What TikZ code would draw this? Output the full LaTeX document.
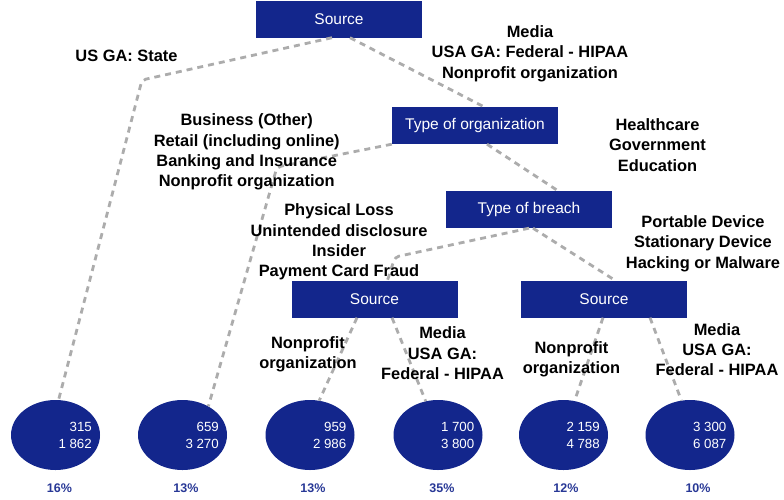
\documentclass[tikz,border=0pt]{standalone}
\usepackage{fontspec}
\setmainfont{Liberation Sans}
\usepackage{tikz}
\usetikzlibrary{shapes.geometric}
\definecolor{darkblue}{RGB}{19,38,140}
\definecolor{pctblue}{RGB}{40,56,150}
\definecolor{linegray}{RGB}{172,172,172}
\begin{document}
\begin{tikzpicture}[x=1pt,y=-1pt,
  box/.style={fill=darkblue,text=white,minimum width=166pt,minimum height=37pt,inner sep=0pt,font=\fontsize{15.5}{19}\selectfont},
  leaf/.style={ellipse,fill=darkblue,minimum width=89pt,minimum height=70pt,inner sep=0pt},
  nums/.style={text=white,align=right,inner sep=0pt,font=\fontsize{13.3}{17}\selectfont},
  pct/.style={text=pctblue,inner sep=0pt,font=\bfseries\fontsize{12.5}{15}\selectfont},
  lbl/.style={align=center,inner sep=0pt,font=\bfseries\fontsize{16.4}{20.3}\selectfont},
  link/.style={draw=linegray,line width=2.8pt,dash pattern=on 6pt off 5pt,rounded corners=4pt}]
\useasboundingbox (0,0) rectangle (784,499);
\node[box] (src) at (339,19) {Source};
\node[box] (org) at (475,125.5) {Type of organization};
\node[box] (brch) at (529,209.5) {Type of breach};
\node[box] (srcL) at (374.5,299) {Source};
\node[box] (srcR) at (604,299) {Source};
\foreach \cx/\a/\b/\p/\px [count=\i] in {55.5/315/1 862/16/59.5, 182.5/659/3 270/13/186, 310/959/2 986/13/313, 438/1 700/3 800/35/442, 563.5/2 159/4 788/12/566, 690/3 300/6 087/10/698}
{
   \node[leaf] (e\i) at (\cx,435) {};
   \node[nums,anchor=east] (n\i) at (\cx+36.5,435.5) {\a\\\b};
   \node[pct] (p\i) at (\px,488) {\p\%};
}
\coordinate (c1) at (142,80);
\coordinate (c2) at (277,167);
\coordinate (c3) at (395,257);
\draw[link] ([xshift=-7pt]src.south) -- (c1) -- (e1.85);
\draw[link] ([xshift=11pt]src.south) -- ([xshift=9pt]org.north);
\draw[link] (org.south west) -- (c2) -- (e2.48);
\draw[link] ([xshift=12pt]org.south) -- ([xshift=29pt]brch.north);
\draw[link] (brch.south) -- (c3) -- ([xshift=13pt]srcL.north);
\draw[link] ([xshift=4pt]brch.south) -- ([xshift=11pt]srcR.north);
\draw[link] ([xshift=-17.5pt]srcL.south) -- (e3.75);
\draw[link] ([xshift=17.5pt]srcL.south) -- (e4.110);
\draw[link] ([xshift=-1pt]srcR.south) -- (e5.72);
\draw[link] ([xshift=46pt]srcR.south) -- (e6.104);
\node[lbl] (usga) at (126.5,56) {US GA: State};
\node[lbl] (media1) at (530,53.5) {Media\\USA GA: Federal - HIPAA\\Nonprofit organization};
\node[lbl] (biz) at (246.7,152) {Business (Other)\\Retail (including online)\\Banking and Insurance\\Nonprofit organization};
\node[lbl] (health) at (657.5,145) {Healthcare\\Government\\Education};
\node[lbl] (phys) at (339,242) {Physical Loss\\Unintended disclosure\\Insider\\Payment Card Fraud};
\node[lbl] (port) at (703,243.5) {Portable Device\\Stationary Device\\Hacking or Malware};
\node[lbl] (np1) at (308,354.5) {Nonprofit\\organization};
\node[lbl] (media2) at (442.5,353.3) {Media\\USA GA:\\Federal - HIPAA};
\node[lbl] (np2) at (571.5,359.5) {Nonprofit\\organization};
\node[lbl] (media3) at (717,349.7) {Media\\USA GA:\\Federal - HIPAA};
\end{tikzpicture}
\end{document}
